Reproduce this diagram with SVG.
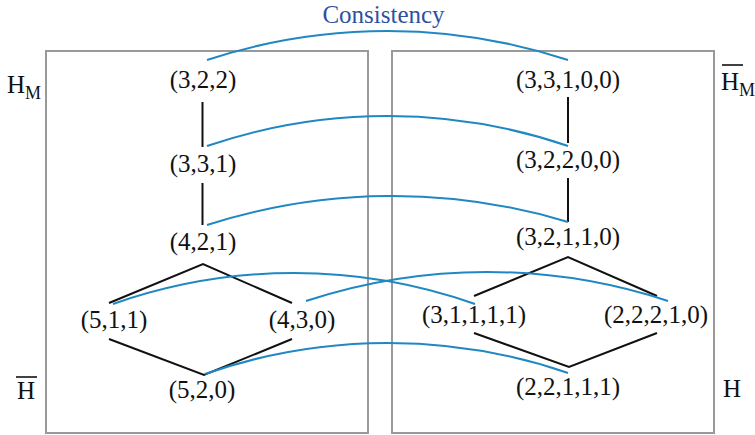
<svg xmlns="http://www.w3.org/2000/svg" width="755" height="435" viewBox="0 0 755 435">
<style>
.box{fill:none;stroke:#999;stroke-width:2}
.t{font-family:"Liberation Serif","Times New Roman",serif;font-size:25px;fill:#111;text-anchor:middle}
.lab{font-family:"Liberation Serif","Times New Roman",serif;font-size:25px;fill:#111}
.sub{font-size:18px}
.e{fill:none;stroke:#111;stroke-width:2}
.c{fill:none;stroke:#1f88c2;stroke-width:2}
.ov{stroke:#111;stroke-width:1.6}
</style>
<rect id="boxLeft" class="box" x="46" y="51" width="322" height="382"/>
<rect id="boxRight" class="box" x="392" y="51" width="322" height="382"/>
<text x="383.5" y="23" style="font-family:'Liberation Serif','Times New Roman',serif;font-size:25px;fill:#2f50a2;text-anchor:middle">Consistency</text>
<g id="labels">
<text class="lab" x="7" y="93">H<tspan class="sub" dy="6">M</tspan></text>
<text class="lab" x="721" y="90">H<tspan class="sub" dy="6">M</tspan></text>
<line class="ov" x1="722" y1="65" x2="743" y2="65"/>
<text class="lab" x="17" y="399">H</text>
<line class="ov" x1="16" y1="377" x2="37" y2="377"/>
<text class="lab" x="723" y="397">H</text>
</g>
<g id="connectors">
<path class="e" d="M202.5,102 V147 M202.5,183 V225"/>
<path class="e" d="M109,303 L203,264 L292,303 M109,339 L204,375 L292,339"/>
<path class="e" d="M568,97 V143 M568,178 V222"/>
<path class="e" d="M474,296 L568,257 L657,296 M474,333 L569,367 L657,333"/>
<path class="c" d="M207,60 A576,576 0 0 1 568,60"/>
<path class="c" d="M207,146 A558,558 0 0 1 568,146"/>
<path class="c" d="M207,225 A606,606 0 0 1 568,222"/>
<path class="c" d="M113,304 A544,544 0 0 1 475,304"/>
<path class="c" d="M306,301 A579,579 0 0 1 668,301"/>
<path class="c" d="M205,374 A555,555 0 0 1 568,373"/>
</g>
<g id="n322"><text class="t" x="203" y="88">(3,2,2)</text></g>
<g id="n331"><text class="t" x="203" y="172">(3,3,1)</text></g>
<g id="n421"><text class="t" x="203" y="250">(4,2,1)</text></g>
<g id="n511"><text class="t" x="114" y="328">(5,1,1)</text></g>
<g id="n430"><text class="t" x="302" y="328">(4,3,0)</text></g>
<g id="n520"><text class="t" x="202" y="398">(5,2,0)</text></g>
<g id="n33100"><text class="t" x="568" y="88">(3,3,1,0,0)</text></g>
<g id="n32200"><text class="t" x="568" y="168">(3,2,2,0,0)</text></g>
<g id="n32110"><text class="t" x="568" y="245">(3,2,1,1,0)</text></g>
<g id="n31111"><text class="t" x="474" y="323">(3,1,1,1,1)</text></g>
<g id="n22210"><text class="t" x="656" y="323">(2,2,2,1,0)</text></g>
<g id="n22111"><text class="t" x="568" y="395">(2,2,1,1,1)</text></g>
</svg>
